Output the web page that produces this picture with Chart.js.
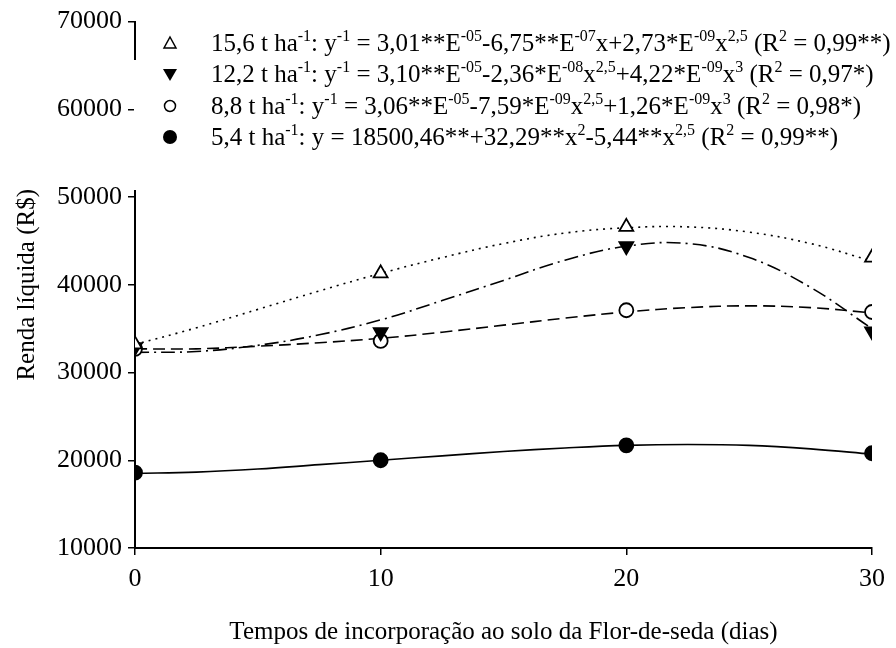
<!DOCTYPE html>
<html>
<head>
<meta charset="utf-8">
<script src="https://cdn.jsdelivr.net/npm/chart.js@4"></script>
<style>
  html, body { margin: 0; padding: 0; background: #fff; }
  canvas { display: block; }
</style>
</head>
<body>
<canvas id="grafico" width="896" height="648"></canvas>
<script>
// dias de incorporação
const diasObs = [0, 10, 20, 30];
const diasCurva = [0, 2.5, 5, 7.5, 10, 12.5, 15, 17.5, 20, 22.5, 25, 27.5, 30];

// valores observados (R$)
const obs156 = [33200, 41300, 46600, 43100];
const obs122 = [32900, 34600, 44400, 34700];
const obs88 = [32700, 33600, 37100, 36900];
const obs54 = [18600, 20000, 21700, 20800];

// curvas ajustadas
const curva156 = [33200, 35100, 37200, 39300, 41300, 43100, 44700, 45900, 46500, 46600, 46000, 44700, 42700];
const curva122 = [32300, 32400, 33100, 34300, 36000, 38200, 40500, 42800, 44400, 44700, 43100, 39700, 35000];
const curva88 = [32700, 32700, 33000, 33400, 33900, 34600, 35400, 36200, 36900, 37400, 37600, 37400, 36800];
const curva54 = [18500, 18650, 19000, 19500, 20000, 20500, 21000, 21400, 21700, 21800, 21700, 21300, 20700];

const yTicks = [10000, 20000, 30000, 40000, 50000, 60000, 70000];
const xTicks = [0, 10, 20, 30];

// legenda: [texto, sobrescrito?]
const legenda156 = [["15,6 t ha", 0], ["-1", 1], [": y", 0], ["-1", 1], [" = 3,01**E", 0], ["-05", 1], ["-6,75**E", 0], ["-07", 1], ["x+2,73*E", 0], ["-09", 1], ["x", 0], ["2,5", 1], [" (R", 0], ["2", 1], [" = 0,99**)", 0]];
const legenda122 = [["12,2 t ha", 0], ["-1", 1], [": y", 0], ["-1", 1], [" = 3,10**E", 0], ["-05", 1], ["-2,36*E", 0], ["-08", 1], ["x", 0], ["2,5", 1], ["+4,22*E", 0], ["-09", 1], ["x", 0], ["3", 1], [" (R", 0], ["2", 1], [" = 0,97*)", 0]];
const legenda88 = [["8,8 t ha", 0], ["-1", 1], [": y", 0], ["-1", 1], [" = 3,06**E", 0], ["-05", 1], ["-7,59*E", 0], ["-09", 1], ["x", 0], ["2,5", 1], ["+1,26*E", 0], ["-09", 1], ["x", 0], ["3", 1], [" (R", 0], ["2", 1], [" = 0,98*)", 0]];
const legenda54 = [["5,4 t ha", 0], ["-1", 1], [": y = 18500,46**+32,29**x", 0], ["2", 1], ["-5,44**x", 0], ["2,5", 1], [" (R", 0], ["2", 1], [" = 0,99**)", 0]];

const fonte = "Liberation Serif";

const pares = (xs, ys) => xs.map((x, i) => ({ x: x, y: ys[i] }));

const curva = (ys, dash) => ({
    data: pares(diasCurva, ys),
    showLine: true,
    borderColor: "#000",
    borderWidth: 1.6,
    borderDash: dash,
    tension: 0.4,
    pointRadius: 0,
    fill: false,
    order: 2
});

const pontos = (ys, estilo, preenchido, rot) => ({
    data: pares(diasObs, ys),
    showLine: false,
    pointStyle: estilo,
    pointRotation: rot || 0,
    pointRadius: estilo === "triangle" ? 8 : 7,
    pointBorderWidth: 1.8,
    pointBorderColor: "#000",
    pointBackgroundColor: preenchido ? "#000" : "#fff",
    order: 1
});

// legenda desenhada à mão (com sobrescritos) e recorte do eixo
const pluginLegenda = {
    id: "legendaManual",
    afterDraw(chart) {
        const ctx = chart.ctx;
        ctx.save();
        // falha no eixo y atrás da legenda
        ctx.fillStyle = "#fff";
        ctx.fillRect(134, 60, 5, 130);

        const linhas = [legenda156, legenda122, legenda88, legenda54];
        const ys = [43, 74, 106, 137];
        const tam = 25;
        linhas.forEach((segs, i) => {
            const y = ys[i];
            // marcador
            ctx.strokeStyle = "#000";
            ctx.fillStyle = "#000";
            ctx.lineWidth = 1.5;
            const mx = 170;
            if (i === 0 || i === 1) {
                ctx.beginPath();
                if (i === 0) {
                    ctx.moveTo(mx, y - 6); ctx.lineTo(mx + 6, y + 5); ctx.lineTo(mx - 6, y + 5);
                } else {
                    ctx.moveTo(mx, y + 7); ctx.lineTo(mx + 7, y - 5); ctx.lineTo(mx - 7, y - 5);
                }
                ctx.closePath();
                if (i === 0) ctx.stroke(); else ctx.fill();
            } else {
                ctx.beginPath();
                ctx.arc(mx, y, i === 2 ? 5.5 : 7, 0, Math.PI * 2);
                if (i === 2) ctx.stroke(); else ctx.fill();
            }
            // texto
            let x = 211;
            const base = y + 8;
            segs.forEach(([txt, sup]) => {
                ctx.font = (sup ? Math.round(tam * 0.63) : tam) + "px '" + fonte + "'";
                ctx.textBaseline = "alphabetic";
                ctx.textAlign = "left";
                ctx.fillText(txt, x, sup ? base - tam * 0.4 : base);
                x += ctx.measureText(txt).width;
            });
        });
        ctx.restore();
    }
};

new Chart(document.getElementById("grafico").getContext("2d"), {
    type: "scatter",
    data: {
        datasets: [
            pontos(obs156, "triangle", false),
            pontos(obs122, "triangle", true, 180),
            pontos(obs88, "circle", false),
            pontos(obs54, "circle", true),
            curva(curva156, [2, 5]),
            curva(curva122, [14, 5, 2, 5]),
            curva(curva88, [12, 6]),
            curva(curva54, [])
        ]
    },
    options: {
        responsive: false,
        animation: false,
        devicePixelRatio: 1,
        layout: { padding: { left: 0, top: 20, right: 24, bottom: 0 } },
        plugins: { legend: { display: false }, tooltip: { enabled: false } },
        scales: {
            x: {
                type: "linear",
                min: 0,
                max: 30,
                afterBuildTicks: s => { s.ticks = xTicks.map(v => ({ value: v })); },
                afterFit: s => { s.height = 100; },
                grid: { display: true, drawOnChartArea: false, tickLength: 7, color: "#000", lineWidth: 1.5 },
                border: { display: true, color: "#000", width: 2 },
                ticks: { color: "#000", padding: 9, font: { family: fonte, size: 26 }, callback: v => String(v) },
                title: {
                    display: true,
                    text: "Tempos de incorporação ao solo da Flor-de-seda (dias)",
                    color: "#000",
                    font: { family: fonte, size: 25 },
                    padding: { top: 0, bottom: 1 }
                }
            },
            y: {
                min: 10000,
                max: 70000,
                afterBuildTicks: s => { s.ticks = yTicks.map(v => ({ value: v })); },
                afterFit: s => { s.width = 135; },
                grid: { display: true, drawOnChartArea: false, tickLength: 7, color: "#000", lineWidth: 1.5 },
                border: { display: true, color: "#000", width: 2 },
                ticks: { color: "#000", padding: 6, font: { family: fonte, size: 26 }, callback: v => String(v) },
                title: {
                    display: true,
                    text: "Renda líquida (R$)",
                    color: "#000",
                    font: { family: fonte, size: 25 },
                    padding: { top: 12, bottom: 0 }
                }
            }
        }
    },
    plugins: [pluginLegenda]
});
</script>
</body>
</html>
